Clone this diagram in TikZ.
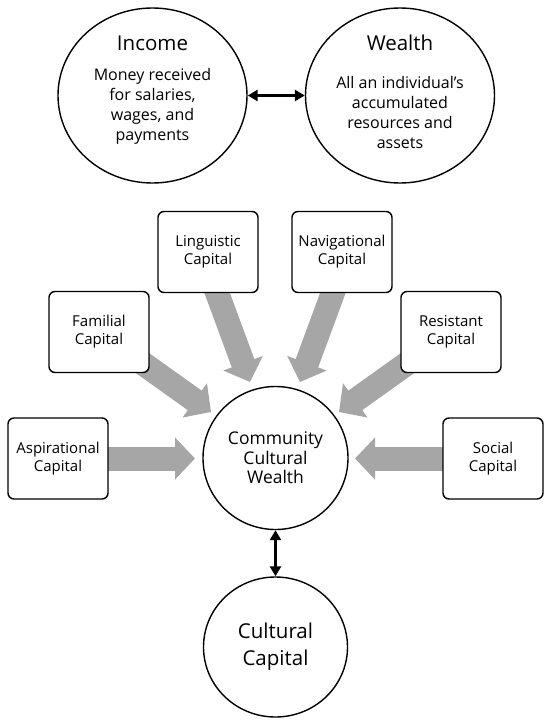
\documentclass[tikz,border=0pt]{standalone}
\usepackage{fontspec}
\setmainfont{Open Sans}
\usetikzlibrary{arrows.meta,shapes.geometric,backgrounds}
\definecolor{flowgray}{HTML}{A6A6A6}
\begin{document}
\begin{tikzpicture}[x=1pt,y=-1pt,
  bigcirc/.style={draw, ellipse, line width=1.4pt, inner sep=0pt, fill=white},
  capbox/.style={draw, rectangle, rounded corners=6pt, line width=1.4pt, fill=white,
    minimum width=100pt, minimum height=81pt, align=center, inner sep=0pt,
    font=\fontsize{15}{18}\selectfont},
  titletext/.style={inner sep=0pt, font=\fontsize{20.5}{26}\selectfont},
  bodytext/.style={inner sep=0pt, align=center, font=\fontsize{16}{20}\selectfont},
  flow/.style={line width=24pt, draw=flowgray, -{Triangle[length=20pt 0 0,width=41pt 0 0]}},
  link/.style={line width=3pt, {Triangle[length=10pt 0 0,width=11pt 0 0]}-{Triangle[length=10pt 0 0,width=11pt 0 0]}}
]
\useasboundingbox (0,0) rectangle (550,725);

% top circles
\node[bigcirc, minimum width=189pt, minimum height=175pt] (income) at (152.5,95.5) {};
\node[bigcirc, minimum width=189pt, minimum height=175pt] (wealth) at (400,95.5) {};
\node[titletext] (incomeT) at (152.5,43) {Income};
\node[bodytext] (incomeB) at (152.5,106) {Money received\\for salaries,\\wages, and\\payments};
\node[titletext] (wealthT) at (400,43) {Wealth};
\node[bodytext] (wealthB) at (400,112) {All an individual’s\\accumulated\\resources and\\assets};
\draw[link] (income) -- (wealth);

% central circle
\node[bigcirc, minimum width=145pt, minimum height=143pt, align=center,
  font=\fontsize{17.5}{19.5}\selectfont] (ccw) at (275.5,458) {Community\\Cultural\\Wealth};
\node[bigcirc, minimum width=144pt, minimum height=140pt, align=center,
  font=\fontsize{20.5}{27}\selectfont] (cc) at (275.5,647) {Cultural\\Capital};
\draw[link] (ccw) -- (cc);

% capital boxes
\node[capbox] (ling) at (208,252) {Linguistic\\Capital};
\node[capbox] (nav) at (342,252) {Navigational\\Capital};
\node[capbox] (fam) at (99,332) {Familial\\Capital};
\node[capbox] (res) at (451,332) {Resistant\\Capital};
\node[capbox] (asp) at (58,458.5) {Aspirational\\Capital};
\node[capbox] (soc) at (493,458.5) {Social\\Capital};

% arrow tips
\coordinate (lingtip) at (250,382);
\coordinate (navtip) at (300,382);
\coordinate (famtip) at (211,412);
\coordinate (restip) at (339,412);
\coordinate (asptip) at (195,458.5);
\coordinate (soctip) at (355,458.5);

\begin{pgfonlayer}{background}
\draw[flow] ([xshift=-6pt]ling.center) -- (lingtip);
\draw[flow] ([xshift=6pt]nav.center) -- (navtip);
\draw[flow] (fam.center) -- (famtip);
\draw[flow] (res.center) -- (restip);
\draw[flow] (asp.center) -- (asptip);
\draw[flow] (soc.center) -- (soctip);
\end{pgfonlayer}
\end{tikzpicture}
\end{document}
